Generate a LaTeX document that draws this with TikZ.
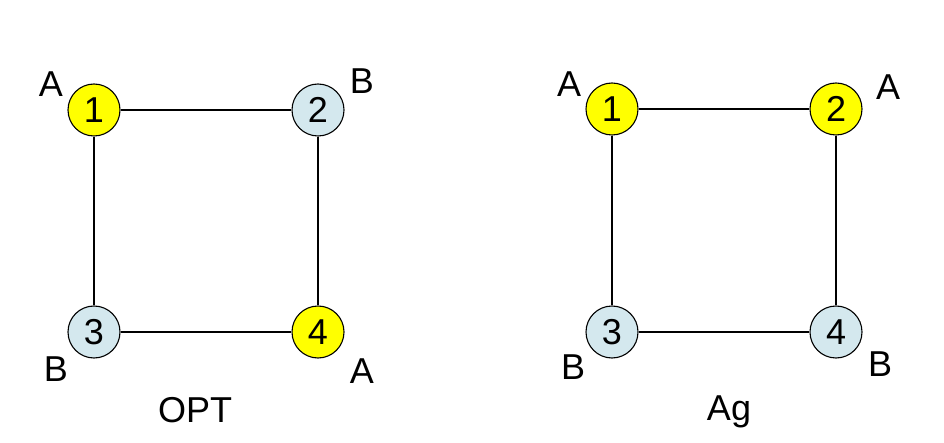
\documentclass[tikz,border=0pt]{standalone}
\usepackage{fontspec}
\setmainfont{Liberation Sans}
\definecolor{nodeyellow}{RGB}{255,255,0}
\definecolor{nodeblue}{RGB}{212,232,238}
\begin{document}
\begin{tikzpicture}[x=1pt,y=-1pt,
  vtx/.style={circle,draw=black,line width=1.1pt,minimum size=52pt,inner sep=0pt,font=\fontsize{36}{36}\selectfont},
  yel/.style={vtx,fill=nodeyellow},
  blu/.style={vtx,fill=nodeblue},
  lbl/.style={font=\fontsize{36}{36}\selectfont,inner sep=0pt},
  edge/.style={line width=1.1pt}]
\useasboundingbox (0,0) rectangle (944,443);
% left graph
\node[yel] (l1) at (94,110) {1};
\node[blu] (l2) at (318,110) {2};
\node[blu] (l3) at (94,332) {3};
\node[yel] (l4) at (318,332) {4};
\draw[edge] (l1) -- (l2);
\draw[edge] (l1) -- (l3);
\draw[edge] (l2) -- (l4);
\draw[edge] (l3) -- (l4);
\node[lbl] (la1) at (51,84) {A};
\node[lbl] (lb2) at (362,81) {B};
\node[lbl] (lb3) at (56,369) {B};
\node[lbl] (la4) at (362,371) {A};
\node[lbl,anchor=base] (opt) at (195,422) {OPT};
% right graph
\node[yel] (r1) at (612,109) {1};
\node[yel] (r2) at (836,109) {2};
\node[blu] (r3) at (612,332) {3};
\node[blu] (r4) at (836,332) {4};
\draw[edge] (r1) -- (r2);
\draw[edge] (r1) -- (r3);
\draw[edge] (r2) -- (r4);
\draw[edge] (r3) -- (r4);
\node[lbl] (ra1) at (569,84) {A};
\node[lbl] (ra2) at (888,87) {A};
\node[lbl] (rb3) at (573,367) {B};
\node[lbl] (rb4) at (880,364) {B};
\node[lbl,anchor=base] (ag) at (729,420) {Ag};
\end{tikzpicture}
\end{document}
